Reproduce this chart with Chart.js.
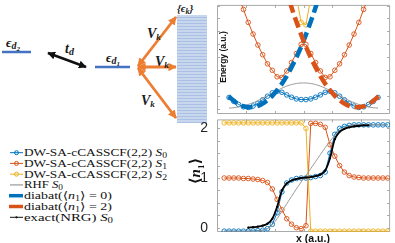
<!DOCTYPE html>
<html>
<head>
<meta charset="utf-8">
<title>DW-SA-cCASSCF energies and occupations</title>
<script src="https://cdn.jsdelivr.net/npm/chart.js"></script>
<style>
  body { margin: 0; width: 395px; height: 243px; background: #fff; position: relative; overflow: hidden; }
  canvas, svg, .lab { position: absolute; }
  .lab { font-family: 'Liberation Sans', Arial, sans-serif; font-weight: bold; color: #111; white-space: nowrap; line-height: 1; }
  #elab { font-size: 8.5px; left: 223px; top: 57px; transform: translate(-50%, -50%) rotate(-90deg); }
  #xlab { font-size: 10.5px; left: 313px; top: 238px; transform: translate(-50%, -50%); }
  #nlab { font-family: 'Liberation Serif', 'DejaVu Serif', serif; font-size: 15px; left: 197px; top: 171px; transform: translate(-50%, -50%) rotate(-90deg); }
  #nlab sub { font-size: 9px; }
  .m { font-family: 'Liberation Serif', 'DejaVu Serif', serif; font-weight: bold; font-style: italic; fill: #1a1a1a; }
  .lg { font-family: 'Liberation Serif', 'DejaVu Serif', serif; font-size: 11px; fill: #111; }
</style>
</head>
<body>

<svg width="210" height="243" style="left:0;top:0">
  <defs>
    <pattern id="band" width="30" height="3" patternUnits="userSpaceOnUse">
      <rect width="30" height="3" fill="#c8d6ee"/>
      <rect y="2" width="30" height="1" fill="#aac0e5"/>
    </pattern>
    <marker id="hk" viewBox="0 0 10 10" refX="9" refY="5" markerWidth="3.2" markerHeight="3.2" orient="auto-start-reverse">
      <path d="M0,0 L10,5 L0,10 z" fill="#111"/>
    </marker>
    <marker id="ho" viewBox="0 0 10 10" refX="9" refY="5" markerWidth="3" markerHeight="3" orient="auto-start-reverse">
      <path d="M0,0 L10,5 L0,10 z" fill="#ed7d31"/>
    </marker>
  </defs>

  <!-- schematic: two dots and the lead band -->
  <rect x="177" y="15" width="30" height="108" fill="url(#band)"/>
  <line x1="2" y1="52" x2="31" y2="52" stroke="#4472c4" stroke-width="2.5"/>
  <line x1="95" y1="67" x2="130" y2="67" stroke="#4472c4" stroke-width="2.5"/>
  <line x1="48" y1="53" x2="86" y2="67" stroke="#111" stroke-width="2.5" marker-start="url(#hk)" marker-end="url(#hk)"/>
  <line x1="138" y1="66" x2="176" y2="17" stroke="#ed7d31" stroke-width="2.8" marker-start="url(#ho)" marker-end="url(#ho)"/>
  <line x1="138" y1="67" x2="176" y2="67" stroke="#ed7d31" stroke-width="2.8" marker-start="url(#ho)" marker-end="url(#ho)"/>
  <line x1="138" y1="68" x2="176" y2="118" stroke="#ed7d31" stroke-width="2.8" marker-start="url(#ho)" marker-end="url(#ho)"/>

  <text class="m" x="6" y="47" font-size="13">ϵ<tspan font-size="10" dy="2">d</tspan><tspan font-size="7" dy="2">2</tspan></text>
  <text class="m" x="65" y="53" font-size="14">t<tspan font-size="10" dy="2">d</tspan></text>
  <text class="m" x="106" y="62" font-size="13">ϵ<tspan font-size="10" dy="2">d</tspan><tspan font-size="7" dy="2">1</tspan></text>
  <text class="m" x="147" y="38" font-size="14">V<tspan font-size="9" dy="2">k</tspan></text>
  <text class="m" x="155" y="66" font-size="14">V<tspan font-size="9" dy="2">k</tspan></text>
  <text class="m" x="141" y="105" font-size="14">V<tspan font-size="9" dy="2">k</tspan></text>
  <text class="m" x="177" y="12" font-size="11">{ϵ<tspan font-size="8" dy="2">k</tspan><tspan dy="-2">}</tspan></text>

  <!-- legend -->
  <g stroke-width="1" fill="none">
    <line x1="10" y1="152.7" x2="23" y2="152.7" stroke="#0072bd"/><circle cx="16.5" cy="152.7" r="2" stroke="#0072bd"/>
    <line x1="10" y1="163.4" x2="23" y2="163.4" stroke="#d95319"/><circle cx="16.5" cy="163.4" r="2" stroke="#d95319"/>
    <line x1="10" y1="174.2" x2="23" y2="174.2" stroke="#edb120"/><circle cx="16.5" cy="174.2" r="2" stroke="#edb120"/>
    <line x1="10" y1="184.9" x2="23" y2="184.9" stroke="#a0a0a0" stroke-width="1.3"/>
    <line x1="9" y1="195.7" x2="23" y2="195.7" stroke="#0072bd" stroke-width="3.5"/>
    <line x1="9" y1="206.5" x2="23" y2="206.5" stroke="#d95319" stroke-width="3.5"/>
    <line x1="10" y1="217.3" x2="23" y2="217.3" stroke="#111"/><circle cx="16.5" cy="217.3" r="1.1" fill="#111" stroke="none"/>
  </g>
  <text class="lg" x="24" y="156.2" textLength="143" lengthAdjust="spacingAndGlyphs">DW-SA-cCASSCF(2,2) <tspan font-style="italic">S</tspan><tspan font-size="8" dy="2">0</tspan></text>
  <text class="lg" x="24" y="166.9" textLength="143" lengthAdjust="spacingAndGlyphs">DW-SA-cCASSCF(2,2) <tspan font-style="italic">S</tspan><tspan font-size="8" dy="2">1</tspan></text>
  <text class="lg" x="24" y="177.7" textLength="143" lengthAdjust="spacingAndGlyphs">DW-SA-cCASSCF(2,2) <tspan font-style="italic">S</tspan><tspan font-size="8" dy="2">2</tspan></text>
  <text class="lg" x="24" y="188.4" textLength="39" lengthAdjust="spacingAndGlyphs">RHF <tspan font-style="italic">S</tspan><tspan font-size="8" dy="2">0</tspan></text>
  <text class="lg" x="24" y="199.2" textLength="88" lengthAdjust="spacingAndGlyphs">diabat(⟨<tspan font-style="italic">n</tspan><tspan font-size="8" dy="2">1</tspan><tspan dy="-2">⟩ = 0)</tspan></text>
  <text class="lg" x="24" y="210" textLength="88" lengthAdjust="spacingAndGlyphs">diabat(⟨<tspan font-style="italic">n</tspan><tspan font-size="8" dy="2">1</tspan><tspan dy="-2">⟩ = 2)</tspan></text>
  <text class="lg" x="24" y="220.8" textLength="89" lengthAdjust="spacingAndGlyphs">exact(NRG) <tspan font-style="italic">S</tspan><tspan font-size="8" dy="2">0</tspan></text>
</svg>

<canvas id="eplot" width="195" height="120" style="left:200px;top:0"></canvas>
<canvas id="nplot" width="205" height="133" style="left:190px;top:110px"></canvas>
<div class="lab" id="elab">Energy (a.u.)</div>
<div class="lab" id="xlab">x (a.u.)</div>
<div class="lab" id="nlab">⟨<i>n</i><sub>1</sub>⟩</div>

<script>
// x grid of the cCASSCF scans
var xs = [-2.75, -2.583, -2.417, -2.25, -2.083, -1.917, -1.75, -1.583, -1.417, -1.25, -1.083, -0.917,
          -0.75, -0.583, -0.417, -0.25, -0.083, 0.083, 0.25, 0.417, 0.583, 0.75, 0.917, 1.083,
          1.25, 1.417, 1.583, 1.75, 1.917, 2.083, 2.25, 2.417, 2.583, 2.75, 2.917];
var xsTop = xs.slice(1, 33);
var xNRG = xs.slice(5, 31);

// energies (top panel)
var eS0 = [0.9, 0.6, 0.36, 0.18, 0.13, 0.24, 0.45, 0.72, 1.0, 1.26, 1.38, 1.3, 1.1, 0.92, 0.79, 0.74,
           0.74, 0.79, 0.92, 1.1, 1.3, 1.38, 1.26, 1.0, 0.72, 0.45, 0.24, 0.13, 0.18, 0.36, 0.6, 0.9];
var eS1 = [11.0, 9.8, 8.7, 7.7, 6.7, 5.8, 4.95, 4.2, 3.5, 3.0, 2.5, 2.45, 2.95, 3.6, 4.3, 5.0,
           5.0, 4.3, 3.6, 2.95, 2.45, 2.5, 3.0, 3.5, 4.2, 4.95, 5.8, 6.7, 7.7, 8.7, 9.8, 11.0];
var xS2 = [-0.417, -0.25, -0.083, 0.083, 0.25, 0.417];
var eS2 = [10.8, 8.7, 6.7, 6.5, 8.6, 10.8];
var eRHF = [0.08, 0.11, 0.17, 0.25, 0.36, 0.5, 0.66, 0.84, 1.04, 1.24, 1.44, 1.62, 1.78, 1.9, 1.98, 2.02,
            2.02, 1.98, 1.9, 1.78, 1.62, 1.44, 1.24, 1.04, 0.84, 0.66, 0.5, 0.36, 0.25, 0.17, 0.11, 0.08];
var xDia0 = [-2.6, -2.35, -2.1, -1.85, -1.6, -1.35, -1.1, -0.85, -0.6, -0.35, -0.1, 0.15, 0.4, 0.65];
var xDia2 = [2.6, 2.35, 2.1, 1.85, 1.6, 1.35, 1.1, 0.85, 0.6, 0.35, 0.1, -0.15, -0.4, -0.65];
var eDia = [0.99, 0.53, 0.24, 0.15, 0.24, 0.53, 0.99, 1.65, 2.49, 3.53, 4.74, 6.15, 7.74, 9.53];

// occupations <n1> (bottom panel)
var nS0 = [-0.07, -0.07, -0.07, -0.07, -0.07, -0.07, -0.065, -0.06, -0.05, -0.02, 0.07, 0.3, 0.72, 0.9,
           0.96, 0.99, 1.0, 1.0, 1.01, 1.03, 1.05, 1.12, 1.5, 1.88, 2.0, 2.04, 2.06,
           2.07, 2.07, 2.07, 2.07, 2.07, 2.07, 2.07, 2.07];
var nS1 = [1.0, 1.0, 1.0, 1.0, 0.99, 0.99, 0.98, 0.97, 0.95, 0.91, 0.78, 0.57, 0.36, 0.18, 0.07, 0.0,
           -0.02, 0.04, 2.1, 2.1, 2.08, 2.02, 1.67, 1.44, 1.25, 1.12, 1.05, 1.02, 1.01,
           1.0, 1.0, 1.0, 1.0, 1.0, 1.0];
var nS2 = [2.11, 2.11, 2.11, 2.11, 2.11, 2.11, 2.11, 2.11, 2.11, 2.11, 2.11, 2.11, 2.11, 2.11, 2.11, 2.11, 2.11,
           2.0, -0.07, -0.07, -0.07, -0.07, -0.07, -0.07, -0.07, -0.07, -0.07, -0.07, -0.07, -0.07, -0.07,
           -0.07, -0.07, -0.07, -0.07];
var nRHF = [-0.07, -0.07, -0.07, -0.07, -0.07, -0.07, -0.07, -0.07, -0.05, -0.02, 0.06, 0.18, 0.33, 0.48,
            0.63, 0.78, 0.92, 1.05, 1.19, 1.33, 1.47, 1.61, 1.74, 1.86, 1.95, 2.01, 2.05,
            2.07, 2.07, 2.07, 2.07, 2.07, 2.07, 2.07, 2.07];
var nNRG = [0.0, 0.01, 0.02, 0.04, 0.08, 0.18, 0.42, 0.75, 0.89, 0.95, 0.98, 1.0, 1.01, 1.02, 1.04, 1.07,
            1.15, 1.4, 1.78, 1.93, 1.99, 2.02, 2.04, 2.05, 2.06, 2.06];

// axis ticks
var xTicks = [-2, -1, 0, 1, 2];
var eTicks = [0, 1, 2, 3, 4, 5, 6, 7, 8];
var nTicks = [0, 0.25, 0.5, 0.75, 1, 1.25, 1.5, 1.75, 2];
var nMin = -0.087, nMax = 2.18;

var BLUE = '#0072bd', ORANGE = '#d95319', YELLOW = '#edb120';

function pts(xa, ya) {
  return xa.map(function (x, i) { return { x: x, y: ya[i] }; });
}
function circ(color, xa, ya, order) {
  return { data: pts(xa, ya), borderColor: color, borderWidth: 1, pointRadius: 2.3, pointBorderWidth: 0.9,
           pointBorderColor: color, pointBackgroundColor: 'rgba(0,0,0,0)', order: order };
}
function plain(color, xa, ya, w, order) {
  return { data: pts(xa, ya), borderColor: color, borderWidth: w, pointRadius: 0, tension: 0.3, order: order };
}
function dashed(color, xa, ya, order) {
  return { data: pts(xa, ya), borderColor: color, borderWidth: 4.5, borderDash: [11, 5], pointRadius: 0,
           tension: 0.35, order: order };
}

// box with inward ticks, like matlab axes
function makeFrame(xt, yt) {
  return {
    id: 'frame',
    beforeDatasetsDraw: function (chart) {
      var ctx = chart.ctx, a = chart.chartArea, sx = chart.scales.x, sy = chart.scales.y;
      ctx.save();
      ctx.strokeStyle = '#a9a9a9';
      ctx.lineWidth = 1;
      ctx.beginPath();
      ctx.rect(a.left + 0.5, a.top + 0.5, a.right - a.left - 1, a.bottom - a.top - 1);
      xt.forEach(function (v) {
        var p = Math.round(sx.getPixelForValue(v)) + 0.5;
        ctx.moveTo(p, a.bottom); ctx.lineTo(p, a.bottom - 3);
        ctx.moveTo(p, a.top); ctx.lineTo(p, a.top + 3);
      });
      yt.forEach(function (v) {
        var p = Math.round(sy.getPixelForValue(v)) + 0.5;
        ctx.moveTo(a.left, p); ctx.lineTo(a.left + 3, p);
        ctx.moveTo(a.right, p); ctx.lineTo(a.right - 3, p);
      });
      ctx.stroke();
      ctx.restore();
    }
  };
}

new Chart(document.getElementById('eplot'), {
  type: 'line',
  data: {
    datasets: [
      dashed(ORANGE, xDia2, eDia, 0),
      dashed(BLUE, xDia0, eDia, 1),
      plain('#9b9b9b', xsTop, eRHF, 1, 3),
      circ(YELLOW, xS2, eS2, 4),
      circ(ORANGE, xsTop, eS1, 5),
      circ(BLUE, xsTop, eS0, 6)
    ]
  },
  options: {
    responsive: false,
    animation: false,
    layout: { padding: { left: 17, right: 3, top: 2, bottom: 6 } },
    scales: {
      x: { type: 'linear', min: -3, max: 3, display: false },
      y: { min: -0.375, max: 8.05, display: false }
    },
    plugins: { legend: { display: false }, tooltip: { enabled: false } }
  },
  plugins: [makeFrame(xTicks, eTicks)]
});

var nrg = plain('#000', xNRG, nNRG, 1.8, 2);
nrg.pointRadius = 1.1;
nrg.pointBackgroundColor = '#000';
nrg.pointBorderWidth = 0;

new Chart(document.getElementById('nplot'), {
  type: 'line',
  data: {
    datasets: [
      nrg,
      plain('#9b9b9b', xs, nRHF, 1, 3),
      circ(YELLOW, xs, nS2, 4),
      circ(ORANGE, xs, nS1, 5),
      circ(BLUE, xs, nS0, 6)
    ]
  },
  options: {
    responsive: false,
    animation: false,
    layout: { padding: { left: 0, right: 3, top: 4, bottom: 11 } },
    scales: {
      x: { type: 'linear', min: -3, max: 3, display: false },
      y: {
        min: nMin, max: nMax,
        grid: { display: false },
        border: { display: false },
        afterBuildTicks: function (s) {
          s.ticks = [nMin].concat(nTicks, [nMax]).map(function (v) { return { value: v }; });
        },
        afterFit: function (s) { s.width = 27; },
        ticks: {
          padding: 1,
          color: '#1f1f1f',
          font: { family: 'Liberation Sans', size: 14 },
          callback: function (v) { return Number.isInteger(v) ? String(v) : null; }
        }
      }
    },
    plugins: { legend: { display: false }, tooltip: { enabled: false } }
  },
  plugins: [makeFrame(xTicks, nTicks)]
});
</script>
</body>
</html>
